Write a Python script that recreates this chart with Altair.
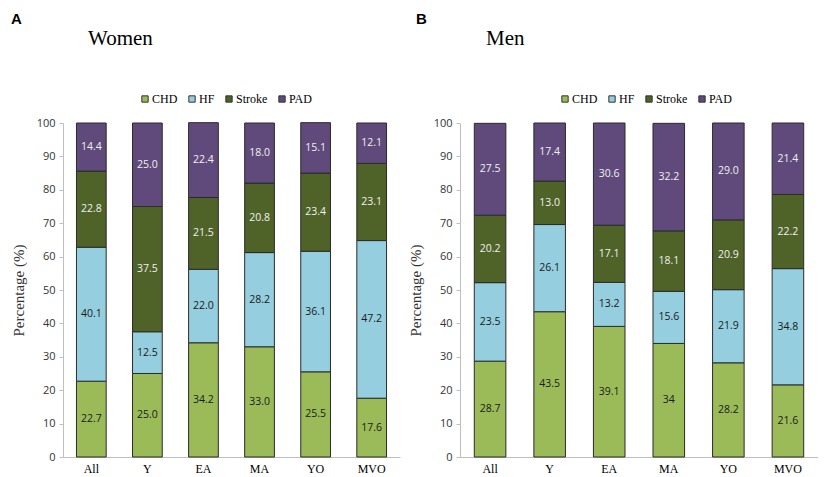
import altair as alt
import pandas as pd

categories = ["All", "Y", "EA", "MA", "YO", "MVO"]
causes = ["CHD", "HF", "Stroke", "PAD"]
colors = ["#9BBB59", "#95CEDF", "#4F6228", "#604A7B"]

women_chd = [22.7, 25.0, 34.2, 33.0, 25.5, 17.6]
women_hf = [40.1, 12.5, 22.0, 28.2, 36.1, 47.2]
women_stroke = [22.8, 37.5, 21.5, 20.8, 23.4, 23.1]
women_pad = [14.4, 25.0, 22.4, 18.0, 15.1, 12.1]

men_chd = [28.7, 43.5, 39.1, 34.0, 28.2, 21.6]
men_hf = [23.5, 26.1, 13.2, 15.6, 21.9, 34.8]
men_stroke = [20.2, 13.0, 17.1, 18.1, 20.9, 22.2]
men_pad = [27.5, 17.4, 30.6, 32.2, 29.0, 21.4]

# labels exactly as printed (men MA CHD is printed "34")
men_chd_labels = ["28.7", "43.5", "39.1", "34", "28.2", "21.6"]

y_ticks = [0, 10, 20, 30, 40, 50, 60, 70, 80, 90, 100]


def make_df(series, label_override=None):
    rows = []
    for k, (cause, vals) in enumerate(zip(causes, series)):
        for i, cat in enumerate(categories):
            lab = f"{vals[i]:.1f}"
            if label_override and cause in label_override:
                lab = label_override[cause][i]
            rows.append({"category": cat, "cause": cause, "value": vals[i],
                         "order": k, "label": lab})
    return pd.DataFrame(rows)


women_df = make_df([women_chd, women_hf, women_stroke, women_pad])
men_df = make_df([men_chd, men_hf, men_stroke, men_pad], {"CHD": men_chd_labels})

x_axis = alt.Axis(title=None, labelAngle=0, labelFont="Liberation Serif",
                  labelFontSize=12, labelColor="#000000", ticks=False,
                  domainColor="#bfbfbf", labelPadding=6)
y_axis = alt.Axis(values=y_ticks, title="Percentage  (%)",
                  titleFont="Liberation Serif", titleFontSize=15,
                  titleFontWeight="normal", titleColor="#333333",
                  labelFont="Open Sans", labelFontSize=11, labelColor="#333333",
                  labelOverlap=False,
                  domainColor="#bfbfbf", tickColor="#bfbfbf", tickSize=4,
                  labelPadding=4, titlePadding=10, grid=False)


def panel(df, letter, word, width, legend_x, letter_x, word_x, pad_inner):
    base = alt.Chart(df).transform_stack(
        stack="value", groupby=["category"], sort=[{"field": "order"}], as_=["y0", "y1"]
    ).transform_calculate(mid="(datum.y0 + datum.y1) / 2")

    xscale = alt.Scale(paddingInner=pad_inner, paddingOuter=0.24)
    yscale = alt.Scale(domain=[0, 100], nice=False)
    x = alt.X("category:N", sort=categories, scale=xscale, axis=x_axis)

    bars = base.mark_bar(stroke="#2b2b2b", strokeWidth=1).encode(
        x=x,
        y=alt.Y("y0:Q", scale=yscale, axis=y_axis),
        y2="y1:Q",
        color=alt.Color("cause:N", scale=alt.Scale(domain=causes, range=colors),
                        legend=alt.Legend(orient="none", legendX=legend_x, legendY=-30,
                                          direction="horizontal", title=None,
                                          symbolType="square", symbolSize=40,
                                          symbolStrokeColor="#333333", symbolStrokeWidth=1,
                                          labelFont="Liberation Serif", labelFontSize=12,
                                          labelColor="#000000", columnPadding=8,
                                          labelOffset=1)),
    )

    labels = base.mark_text(font="Open Sans", fontSize=10.5, baseline="middle").encode(
        x=x,
        y=alt.Y("mid:Q", scale=yscale, axis=y_axis),
        text="label:N",
        color=alt.condition("datum.order >= 2", alt.value("#f0f0f0"), alt.value("#1a1a1a")),
    )

    t_letter = alt.Chart(pd.DataFrame({"t": [letter]})).mark_text(
        font="Liberation Sans", fontSize=15, fontWeight="bold", align="left",
        baseline="middle", color="#000000"
    ).encode(text="t:N", x=alt.value(letter_x), y=alt.value(-104))

    t_word = alt.Chart(pd.DataFrame({"t": [word]})).mark_text(
        font="Liberation Serif", fontSize=21, align="left", baseline="middle",
        color="#000000"
    ).encode(text="t:N", x=alt.value(word_x), y=alt.value(-84))

    return alt.layer(bars, labels, t_letter, t_word).properties(width=width, height=334)


women = panel(women_df, "A", "Women", 337, 76, -52, 25, 0.47)
men = panel(men_df, "B", "Men", 358, 99, -44, 26, 0.47)

chart = alt.hconcat(women, men, spacing=8).resolve_legend(color="independent").properties(
    padding={"left": 3, "top": 4, "right": 0, "bottom": 0}
).configure_view(stroke=None)

chart.save("out.html", embed_options={"renderer": "svg", "actions": False})
